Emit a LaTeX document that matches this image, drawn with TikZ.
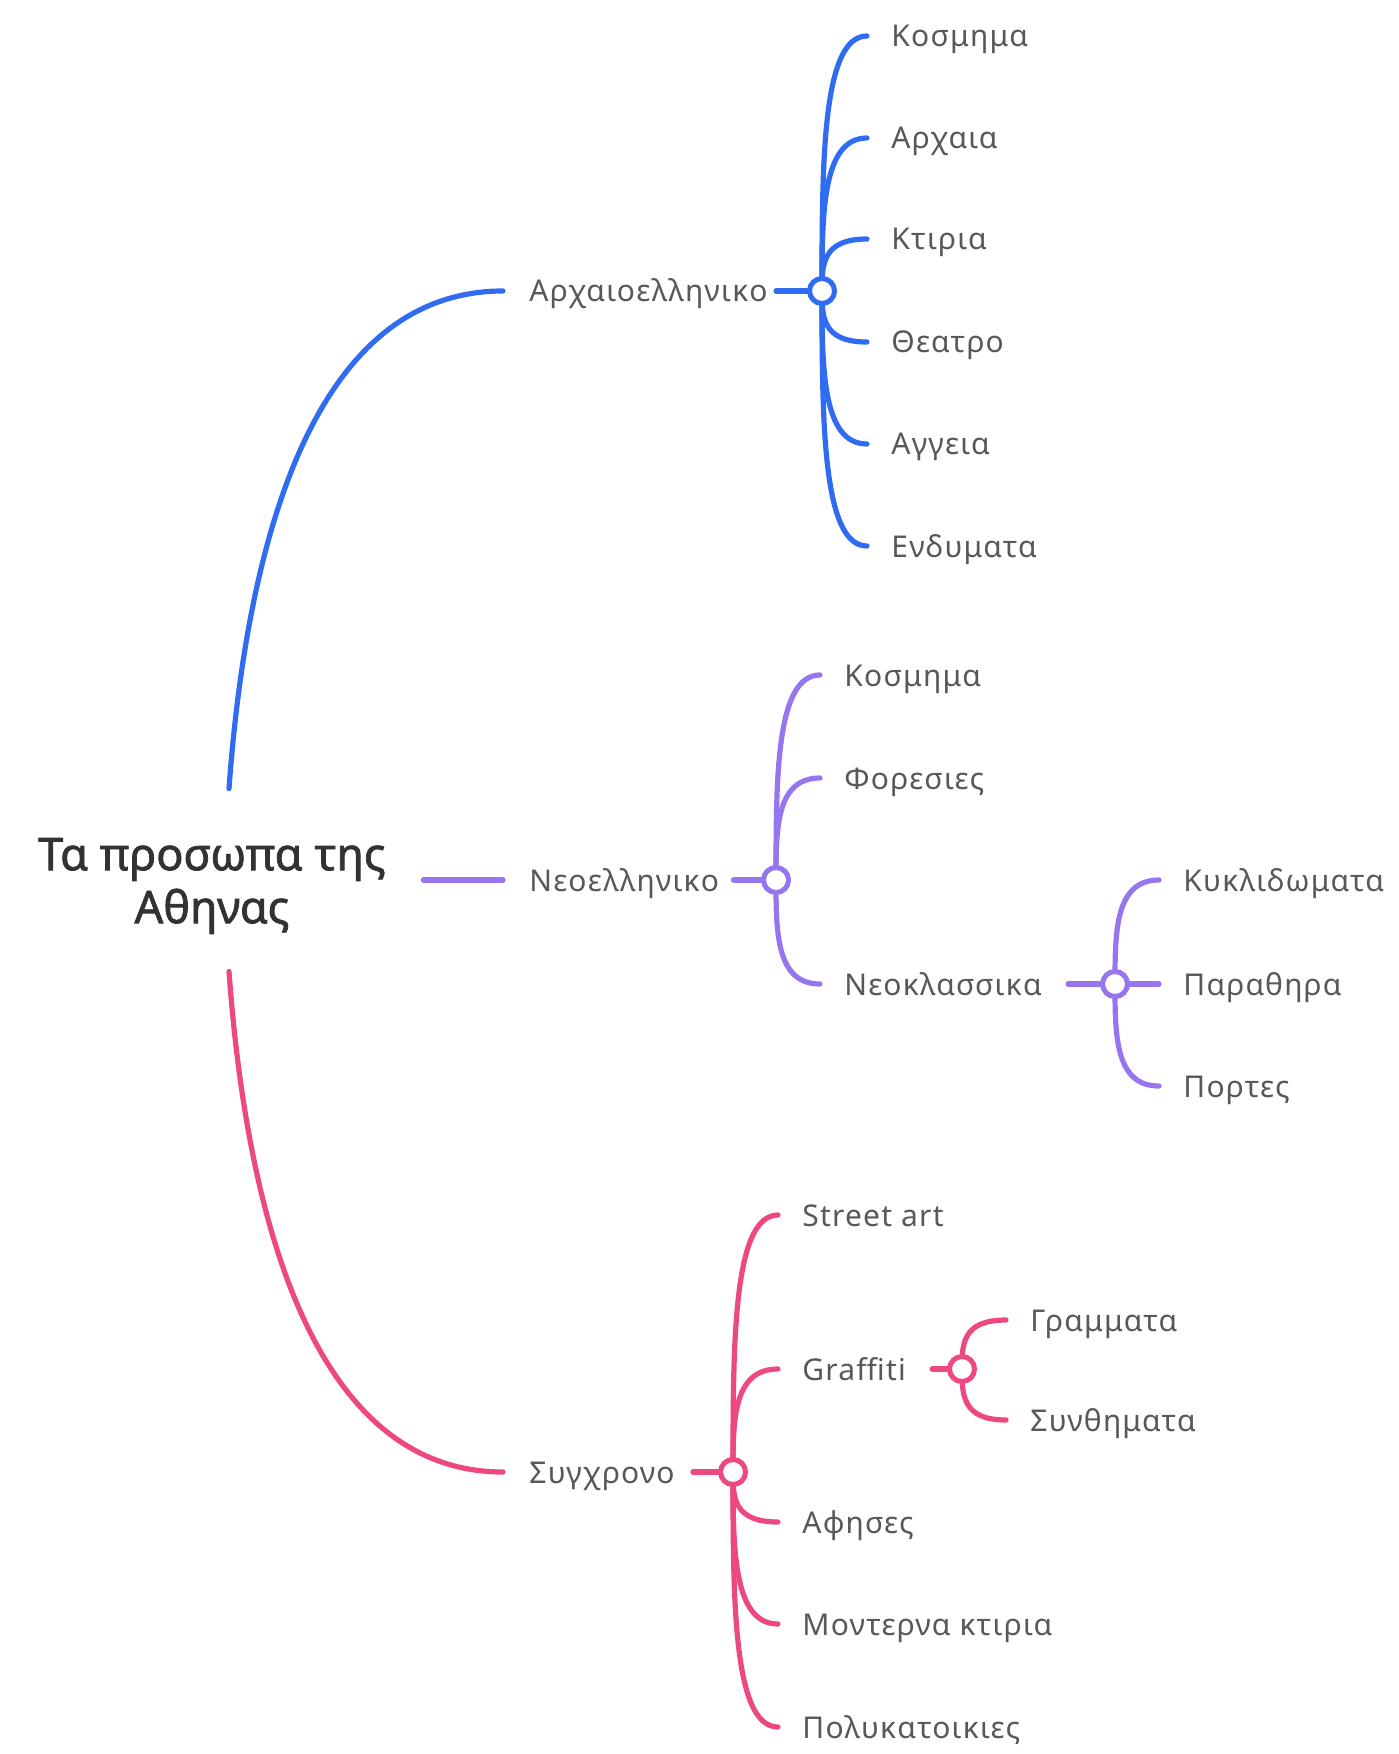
\documentclass[tikz,border=0pt]{standalone}
\usepackage{fontspec}
\setmainfont{Noto Sans}
\newfontfamily\leaffont{Noto Sans}[LetterSpace=4]
\newfontfamily\topicfont{Noto Sans}[FakeBold=1.6]
\usetikzlibrary{positioning,backgrounds,calc}
\definecolor{athblue}{RGB}{47,108,242}
\definecolor{athviolet}{RGB}{150,118,238}
\definecolor{athpink}{RGB}{238,72,128}
\definecolor{athgray}{RGB}{88,88,88}
\definecolor{athdark}{RGB}{50,50,50}
\tikzset{
  topic/.style={font=\topicfont\fontsize{22.5}{26.5}\selectfont, text=athdark, align=center,
    inner sep=0pt, minimum width=211pt, minimum height=91pt},
  leaf/.style={anchor=west, inner sep=0pt, text height=14pt, text depth=3pt,
    text=athgray, font=\leaffont\fontsize{15}{18}\selectfont},
  hub/.style={circle, draw=#1, fill=white, line width=2.5pt, minimum size=12.5pt, inner sep=0pt},
  limb/.style={draw=#1, line width=2.6pt, line cap=round},
}
\begin{document}
\begin{tikzpicture}[x=0.5pt, y=-0.5pt]
    \useasboundingbox (0,0) rectangle (1398,1754);
    \node[topic] (root) at (212,886) {Τα προσωπα της\\Αθηνας};

    % ancient branch
    \node[leaf] (arx) at (529,291) {Αρχαιοελληνικο};
    \node[hub=athblue] (harx) at (822,291) {};
    \foreach \n/\y/\t in {arx1/36/Κοσμημα, arx2/138/Αρχαια, arx3/239/Κτιρια,
        arx4/342/Θεατρο, arx5/444/Αγγεια, arx6/546/Ενδυματα}
      \node[leaf] (\n) at (891,\y) {\t};

    % modern greek branch
    \node[leaf] (neo) at (529,880) {Νεοελληνικο};
    \node[hub=athviolet] (hneo) at (776,880) {};
    \node[leaf] (neo1) at (844,675) {Κοσμημα};
    \node[leaf] (neo2) at (844,778) {Φορεσιες};
    \node[leaf] (neo3) at (844,984) {Νεοκλασσικα};
    \node[hub=athviolet] (hkla) at (1115,984) {};
    \node[leaf] (kla1) at (1183,880) {Κυκλιδωματα};
    \node[leaf] (kla2) at (1183,984) {Παραθηρα};
    \node[leaf] (kla3) at (1183,1086) {Πορτες};

    % contemporary branch
    \node[leaf] (syg) at (529,1472) {Συγχρονο};
    \node[hub=athpink] (hsyg) at (733,1472) {};
    \node[leaf] (syg1) at (802,1215) {Street art};
    \node[leaf] (syg2) at (802,1369) {Graffiti};
    \node[leaf] (syg3) at (802,1522) {Αφησες};
    \node[leaf] (syg4) at (802,1624) {Μοντερνα κτιρια};
    \node[leaf] (syg5) at (802,1727) {Πολυκατοικιες};
    \node[hub=athpink] (hgra) at (962,1369) {};
    \node[leaf] (gra1) at (1030,1320) {Γραμματα};
    \node[leaf] (gra2) at (1030,1420) {Συνθηματα};

    \begin{scope}[on background layer]
    \fill[white] (0,0) rectangle (1398,1754);
    \draw[limb=athblue] ([xshift=8.5pt,yshift=3pt]root.north) .. controls (250,500) and (330,291) .. ([xshift=-13pt]arx.west);
    \draw[limb=athviolet] ([yshift=3pt]root.east) -- ([xshift=-13pt]neo.west);
    \draw[limb=athpink] ([xshift=8.5pt,yshift=3pt]root.south) .. controls (250,1260) and (330,1472) .. ([xshift=-13pt]syg.west);

    \draw[limb=athblue] ([xshift=4pt]arx.east) -- (harx.center);
    \foreach \k in {arx1,arx2,arx3,arx4,arx5,arx6}
      \draw[limb=athblue] (harx.center) .. controls ($(harx.center)!0.5!(harx.center |- \k.west)$)
        and (harx.center |- \k.west) .. ([xshift=-12pt]\k.west);

    \draw[limb=athviolet] ([xshift=7pt]neo.east) -- (hneo.center);
    \foreach \k in {neo1,neo2,neo3}
      \draw[limb=athviolet] (hneo.center) .. controls ($(hneo.center)!0.5!(hneo.center |- \k.west)$)
        and (hneo.center |- \k.west) .. ([xshift=-12pt]\k.west);
    \draw[limb=athviolet] ([xshift=13pt]neo3.east) -- (hkla.center);
    \foreach \k in {kla1,kla2,kla3}
      \draw[limb=athviolet] (hkla.center) .. controls ($(hkla.center)!0.5!(hkla.center |- \k.west)$)
        and (hkla.center |- \k.west) .. ([xshift=-12pt]\k.west);

    \draw[limb=athpink] ([xshift=9pt]syg.east) -- (hsyg.center);
    \foreach \k in {syg1,syg2,syg3,syg4,syg5}
      \draw[limb=athpink] (hsyg.center) .. controls ($(hsyg.center)!0.5!(hsyg.center |- \k.west)$)
        and (hsyg.center |- \k.west) .. ([xshift=-12pt]\k.west);
    \draw[limb=athpink] ([xshift=13pt]syg2.east) -- (hgra.center);
    \foreach \k in {gra1,gra2}
      \draw[limb=athpink] (hgra.center) .. controls ($(hgra.center)!0.5!(hgra.center |- \k.west)$)
        and (hgra.center |- \k.west) .. ([xshift=-12pt]\k.west);
    \end{scope}
\end{tikzpicture}
\end{document}
